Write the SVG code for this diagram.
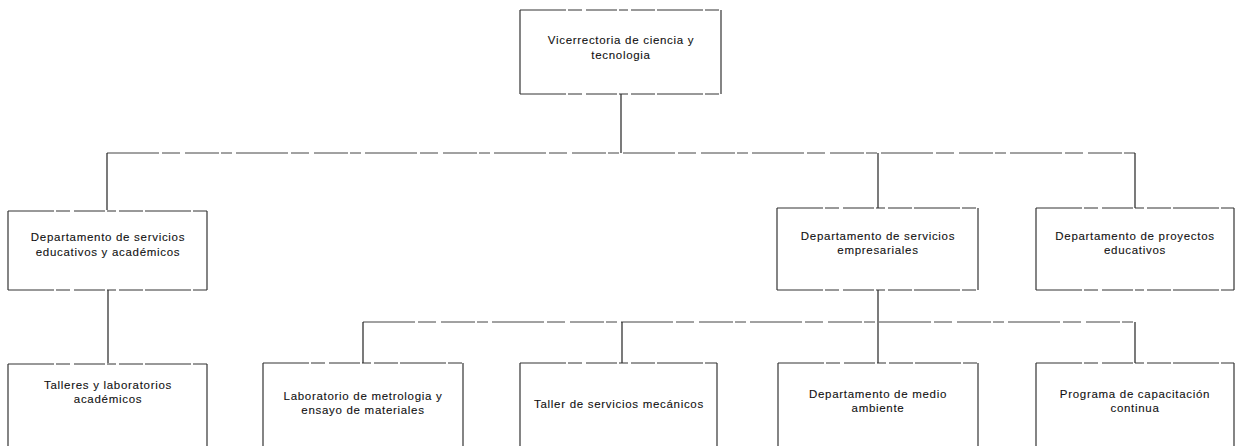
<svg xmlns="http://www.w3.org/2000/svg" width="1242" height="446" viewBox="0 0 1242 446">
  <style>
    .bg { fill: #ffffff; }
    .side { fill: none; stroke: #222222; stroke-width: 1.1; }
    .edge { fill: none; stroke: #333333; stroke-width: 1; stroke-dasharray: 46 2 14 4 31 2 9 3 24 2; }
    .link { fill: none; stroke: #222222; stroke-width: 1.2; }
    .rail { fill: none; stroke: #444444; stroke-width: 1; stroke-dasharray: 52 3 18 5 34 2 11 4; }
    .lbl { font-family: "Liberation Sans", Arial, sans-serif; font-size: 11.5px; letter-spacing: 0.7px; fill: #111111; stroke: #111111; stroke-width: 0.1; text-anchor: middle; }
  </style>

  <rect class="bg" x="0" y="0" width="1242" height="446"/>

  <!-- connectors -->
  <g id="connectors">
    <path class="link" d="M621 94 V153"/>
    <path class="rail" d="M107 153 H1135"/>
    <path class="link" d="M107 153 V210"/>
    <path class="link" d="M878 153 V208"/>
    <path class="link" d="M1135 153 V208"/>
    <path class="link" d="M108 290 V363"/>
    <path class="link" d="M878 290 V322"/>
    <path class="rail" d="M363 322 H1135"/>
    <path class="link" d="M363 322 V363"/>
    <path class="link" d="M622 322 V363"/>
    <path class="link" d="M878 322 V363"/>
    <path class="link" d="M1135 322 V363"/>
  </g>

  <!-- top level -->
  <g id="vicerrectoria">
    <path class="side" d="M520 10 V94 M721 10 V94"/>
    <path class="edge" d="M520 10 H721 M520 94 H721"/>
    <text class="lbl" x="621" y="44">Vicerrectoria de ciencia y</text>
    <text class="lbl" x="621" y="59">tecnologia</text>
  </g>

  <!-- second level -->
  <g id="dep-servicios-educativos">
    <path class="side" d="M8 211 V290 M207 211 V290"/>
    <path class="edge" d="M8 211 H207 M8 290 H207"/>
    <text class="lbl" x="108" y="241">Departamento de servicios</text>
    <text class="lbl" x="108" y="256">educativos y académicos</text>
  </g>

  <g id="dep-servicios-empresariales">
    <path class="side" d="M777 208 V290 M978 208 V290"/>
    <path class="edge" d="M777 208 H978 M777 290 H978"/>
    <text class="lbl" x="878" y="240">Departamento de servicios</text>
    <text class="lbl" x="878" y="254">empresariales</text>
  </g>

  <g id="dep-proyectos-educativos">
    <path class="side" d="M1036 208 V290 M1234 208 V290"/>
    <path class="edge" d="M1036 208 H1234 M1036 290 H1234"/>
    <text class="lbl" x="1135" y="240">Departamento de proyectos</text>
    <text class="lbl" x="1135" y="254">educativos</text>
  </g>

  <!-- third level -->
  <g id="talleres-laboratorios">
    <path class="side" d="M8 364 V452 M207 364 V452"/>
    <path class="edge" d="M8 364 H207"/>
    <text class="lbl" x="108" y="389">Talleres y laboratorios</text>
    <text class="lbl" x="108" y="403">académicos</text>
  </g>

  <g id="lab-metrologia">
    <path class="side" d="M263 363 V452 M463 363 V452"/>
    <path class="edge" d="M263 363 H463"/>
    <text class="lbl" x="363" y="400">Laboratorio de metrologia y</text>
    <text class="lbl" x="363" y="414">ensayo de materiales</text>
  </g>

  <g id="taller-mecanico">
    <path class="side" d="M520 363 V452 M717 363 V452"/>
    <path class="edge" d="M520 363 H717"/>
    <text class="lbl" x="619" y="408">Taller de servicios mecánicos</text>
  </g>

  <g id="dep-medio-ambiente">
    <path class="side" d="M778 363 V452 M978 363 V452"/>
    <path class="edge" d="M778 363 H978"/>
    <text class="lbl" x="878" y="398">Departamento de medio</text>
    <text class="lbl" x="878" y="412">ambiente</text>
  </g>

  <g id="programa-capacitacion">
    <path class="side" d="M1036 363 V452 M1234 363 V452"/>
    <path class="edge" d="M1036 363 H1234"/>
    <text class="lbl" x="1135" y="398">Programa de capacitación</text>
    <text class="lbl" x="1135" y="412">continua</text>
  </g>
</svg>
